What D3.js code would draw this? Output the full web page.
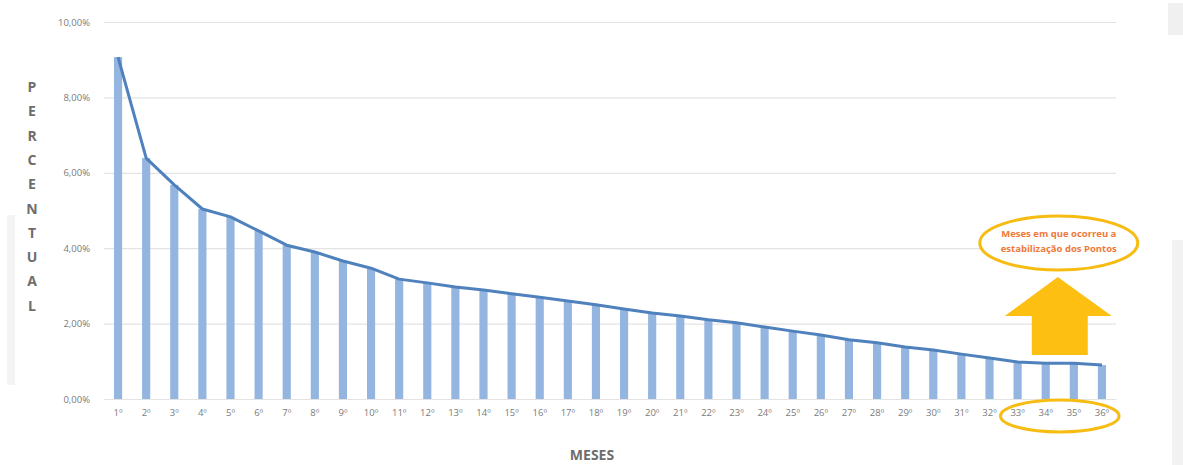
<!DOCTYPE html>
<html>
<head>
<meta charset="utf-8">
<script src="https://cdn.jsdelivr.net/npm/d3@7"></script>
<style>
  body { margin: 0; background: #fff; }
  text { font-family: "Open Sans", "DejaVu Sans", sans-serif; }
</style>
</head>
<body>
<div id="chart-area"></div>
<script>
const meses = d3.range(1, 37).map(d => d + "º")
const percentual = [9.07, 6.39, 5.68, 5.04, 4.83, 4.46, 4.08, 3.90, 3.66, 3.47,
  3.18, 3.08, 2.97, 2.89, 2.79, 2.70, 2.60, 2.50, 2.39, 2.28,
  2.20, 2.10, 2.02, 1.91, 1.80, 1.70, 1.57, 1.49, 1.38, 1.30,
  1.19, 1.09, 0.98, 0.95, 0.95, 0.90]
const yTicks = [0, 2, 4, 6, 8, 10]
const mesesEstaveis = ["33º", "34º", "35º", "36º"]

const W = 1183, H = 465
const MARGIN = { LEFT: 104, RIGHT: 67, TOP: 22, BOTTOM: 66 }
const WIDTH = W - MARGIN.LEFT - MARGIN.RIGHT
const HEIGHT = H - MARGIN.TOP - MARGIN.BOTTOM

const svg = d3.select("#chart-area").append("svg")
  .attr("width", W)
  .attr("height", H)

// faint frame artifacts of the original screenshot
svg.append("rect").attr("x", 1168).attr("y", 3).attr("width", 15).attr("height", 32).attr("fill", "#f0f0f0")
svg.append("rect").attr("x", 1172).attr("y", 240).attr("width", 11).attr("height", 225).attr("fill", "#f2f2f2")
svg.append("rect").attr("x", 7).attr("y", 215).attr("width", 8).attr("height", 170).attr("fill", "#f4f4f4")

const g = svg.append("g")
  .attr("transform", `translate(${MARGIN.LEFT}, ${MARGIN.TOP})`)

const x = d3.scaleBand().domain(meses).range([0, WIDTH]).paddingInner(0.71).paddingOuter(0.355)
const y = d3.scaleLinear().domain([0, 10]).range([HEIGHT, 0])

// grid
g.append("g")
  .call(d3.axisLeft(y).tickValues(yTicks).tickSize(-WIDTH)
    .tickFormat(d => d3.format(".2f")(d).replace(".", ",") + "%"))
  .call(a => a.select(".domain").remove())
  .call(a => a.selectAll("line").attr("stroke", "#e3e3e3").attr("stroke-width", 1.2))
  .call(a => a.selectAll("text").attr("x", -14).attr("fill", "#7a7a7a").attr("font-size", 9.5))

// bars
g.selectAll(".bar").data(percentual).join("rect")
  .attr("class", "bar")
  .attr("x", (d, i) => x(meses[i]))
  .attr("y", d => y(d))
  .attr("width", x.bandwidth())
  .attr("height", d => HEIGHT - y(d))
  .attr("fill", "#93b5e0")

// line
const line = d3.line()
  .x((d, i) => x(meses[i]) + x.bandwidth() / 2)
  .y(d => y(d))
g.append("path").datum(percentual)
  .attr("d", line)
  .attr("fill", "none")
  .attr("stroke", "#4f81bd")
  .attr("stroke-width", 3)
  .attr("stroke-linejoin", "round")

// x axis
g.append("g")
  .attr("transform", `translate(0,${HEIGHT})`)
  .call(d3.axisBottom(x).tickSize(0).tickPadding(10))
  .call(a => a.select(".domain").attr("stroke", "#e3e3e3"))
  .call(a => a.selectAll("text").attr("fill", "#7a7a7a").attr("font-size", 9.5))

// axis titles
g.append("text")
  .attr("x", WIDTH / 2 - 18)
  .attr("y", HEIGHT + 61)
  .attr("text-anchor", "middle")
  .attr("font-size", 14)
  .attr("font-weight", "bold")
  .attr("fill", "#6d6d6d")
  .text("MESES")

const yTitle = "PERCENTUAL".split("")
g.append("g").selectAll("text").data(yTitle).join("text")
  .attr("x", -72)
  .attr("y", (d, i) => 70 + i * 24.3)
  .attr("text-anchor", "middle")
  .attr("font-size", 14)
  .attr("font-weight", "bold")
  .attr("fill", "#6d6d6d")
  .text(d => d)

// annotation: ellipse around stable months
const x0 = x(mesesEstaveis[0]), x1 = x(mesesEstaveis[mesesEstaveis.length - 1]) + x.bandwidth()
const ecx = (x0 + x1) / 2
g.append("ellipse")
  .attr("cx", ecx)
  .attr("cy", HEIGHT + 17)
  .attr("rx", (x1 - x0) / 2 + 13)
  .attr("ry", 16)
  .attr("fill", "none")
  .attr("stroke", "#f7bc12")
  .attr("stroke-width", 3)

// arrow
const ax = ecx - 2
const arrow = [
  [ax, 255], [ax + 54, 294], [ax + 30, 294], [ax + 30, 333],
  [ax - 26, 333], [ax - 26, 294], [ax - 53, 294]
]
g.append("path")
  .attr("d", "M" + arrow.map(p => p.join(",")).join("L") + "Z")
  .attr("fill", "#fdbf12")

// callout bubble
g.append("ellipse")
  .attr("cx", ax + 1)
  .attr("cy", 221)
  .attr("rx", 79)
  .attr("ry", 27)
  .attr("fill", "#fff")
  .attr("stroke", "#f7bc12")
  .attr("stroke-width", 3)

g.append("text")
  .attr("x", ax + 1)
  .attr("y", 215)
  .attr("text-anchor", "middle")
  .attr("font-size", 9.5)
  .attr("font-weight", "bold")
  .attr("fill", "#f0783a")
  .selectAll("tspan").data(["Meses em que ocorreu a", "estabilização dos Pontos"]).join("tspan")
  .attr("x", ax + 1)
  .attr("dy", (d, i) => i === 0 ? 0 : 15)
  .text(d => d)
</script>
</body>
</html>
